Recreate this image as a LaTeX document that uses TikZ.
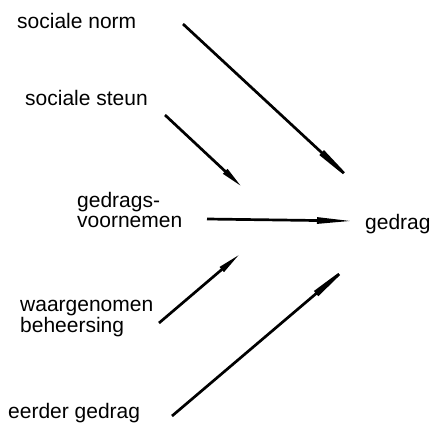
\documentclass[tikz,border=0pt]{standalone}
\usepackage{fontspec}
\setmainfont{Liberation Sans}
\usetikzlibrary{arrows.meta}
\begin{document}
\begin{tikzpicture}[x=1pt,y=-1pt,
  lbl/.style={inner sep=0pt, anchor=base west, align=left,
    font=\fontsize{21}{19.5}\selectfont},
  conn/.style={line width=2.7pt}]
\useasboundingbox[fill=white] (0,0) rectangle (435,425);
% labels
\node[lbl] (norm) at (17,29) {sociale norm};
\node[lbl] (steun) at (25,105) {sociale steun};
\node[lbl] (voorn) at (77,227) {gedrags-\\voornemen};
\node[lbl] (gedrag) at (365,229) {gedrag};
\node[lbl] (beh) at (20,332) {waargenomen\\beheersing};
\node[lbl] (eerder) at (8,418) {eerder gedrag};
% connector end points
\coordinate (normS) at (183,24);   \coordinate (normE) at (362,190);
\coordinate (steunS) at (165,115); \coordinate (steunE) at (242,187);
\coordinate (voornS) at (207,219); \coordinate (voornE) at (353,221);
\coordinate (behS) at (159,323);   \coordinate (behE) at (240,254);
\coordinate (eerderS) at (172,416); \coordinate (eerderE) at (358,258);
% connectors
\draw[conn,-{Triangle[length=55pt,width=6pt]}] (normS) -- (normE);
\draw[conn,-{Triangle[length=23pt,width=6pt]}] (steunS) -- (steunE);
\draw[conn,-{Triangle[length=36pt,width=6pt]}] (voornS) -- (voornE);
\draw[conn,-{Triangle[length=24pt,width=6pt]}] (behS) -- (behE);
\draw[conn,-{Triangle[length=55pt,width=6pt]}] (eerderS) -- (eerderE);
\end{tikzpicture}
\end{document}
